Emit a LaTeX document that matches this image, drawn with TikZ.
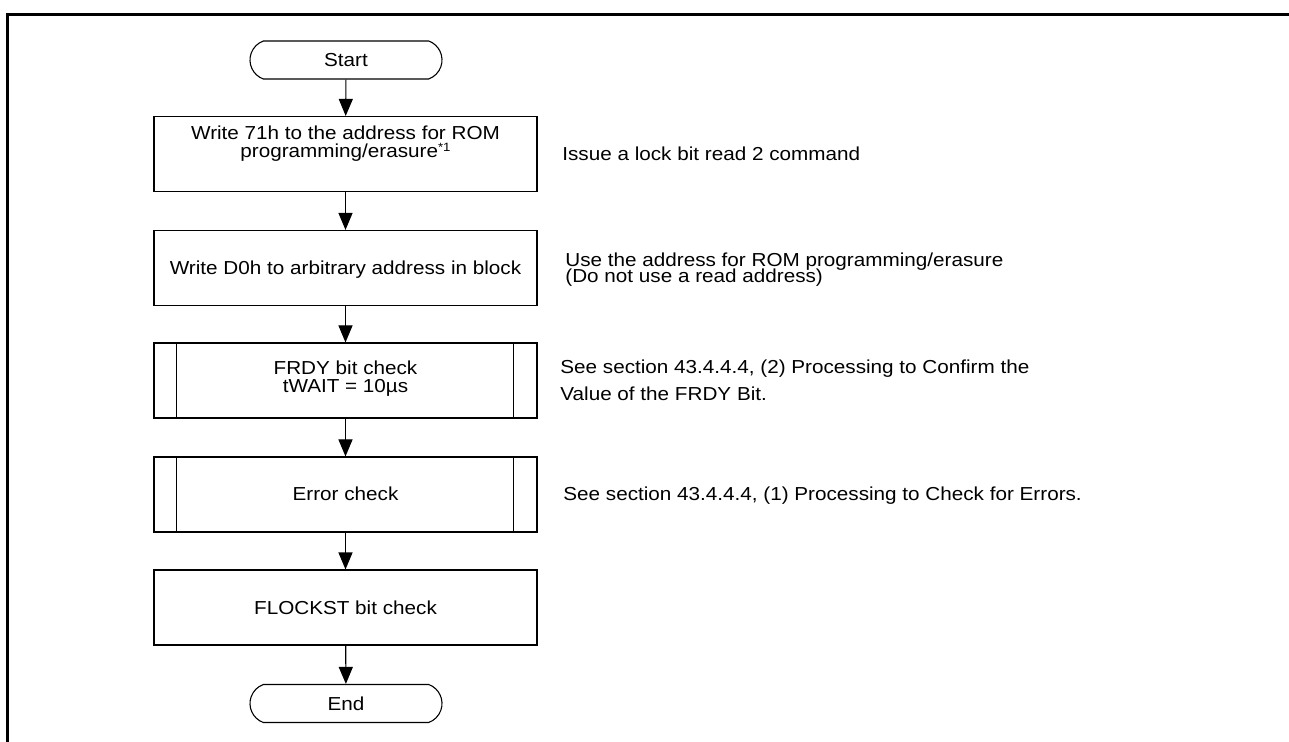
\documentclass[tikz,border=0pt]{standalone}
\usepackage{fontspec}
\setmainfont{Liberation Sans}[FakeStretch=1.1]
\usetikzlibrary{arrows.meta,shapes.misc}
\newcommand{\supnote}[1]{\raisebox{3pt}{\fontsize{6}{6}\selectfont #1}}
\begin{document}
\begin{tikzpicture}[x=0.5pt,y=-0.5pt,
  every node/.style={font=\fontsize{9.4}{9.4}\selectfont},
  term/.style={draw,line width=0.55pt,rounded rectangle,rounded rectangle arc length=140,minimum width=96pt,minimum height=19pt,inner sep=0pt},
  proc/.style={draw,line width=0.55pt,rectangle,minimum width=191.5pt,minimum height=37.5pt,inner sep=0pt},
  txt/.style={anchor=base,inner sep=0pt},
  note/.style={anchor=base west,inner sep=0pt},
  flow/.style={line width=0.55pt,-{Triangle[length=8.5pt,width=7pt]}},
  frame/.style={line width=1.5pt}]
\useasboundingbox (0,0) rectangle (1289,742);
\draw[frame] (7.5,742) -- (7.5,14.5) -- (1289,14.5);
% shapes
\node[term] (start) at (346,60) {};
\node[proc] (b1) at (345.5,154) {};
\node[proc] (b2) at (345.5,268) {};
\node[proc] (b3) at (345.5,380.5) {};
\node[proc] (b4) at (345.5,494.5) {};
\node[proc] (b5) at (345.5,607.5) {};
\node[term] (end) at (346,703.5) {};
\foreach \b in {b3,b4}{
  \draw[line width=0.55pt] ([xshift=11.5pt]\b.north west) -- ([xshift=11.5pt]\b.south west);
  \draw[line width=0.55pt] ([xshift=-12pt]\b.north east) -- ([xshift=-12pt]\b.south east);
}
% texts in shapes
\node[txt] (startt) at (346,66.7) {Start};
\node[txt] (b1a) at (345.5,140) {Write 71h to the address for ROM};
\node[txt] (b1b) at (345.5,158) {programming/erasure\supnote{*1}};
\node[txt] (b2a) at (345.5,274.7) {Write D0h to arbitrary address in block};
\node[txt] (b3a) at (345.5,375) {FRDY bit check};
\node[txt] (b3b) at (345.5,393) {tWAIT = 10µs};
\node[txt] (b4a) at (345.5,501) {Error check};
\node[txt] (b5a) at (345.5,614) {FLOCKST bit check};
\node[txt] (endt) at (346,710) {End};
% connectors
\draw[flow] (start) -- (b1);
\draw[flow] (b1) -- (b2);
\draw[flow] (b2) -- (b3);
\draw[flow] (b3) -- (b4);
\draw[flow] (b4) -- (b5);
\draw[flow] (b5) -- (end);
% notes
\node[note] (n1) at (562,160.7) {Issue a lock bit read 2 command};
\node[note] (n2a) at (565,266.5) {Use the address for ROM programming/erasure};
\node[note] (n2b) at (565,283) {(Do not use a read address)};
\node[note] (n3a) at (560,373.5) {See section 43.4.4.4, (2) Processing to Confirm the};
\node[note] (n3b) at (560,400.5) {Value of the FRDY Bit.};
\node[note] (n4) at (563,501) {See section 43.4.4.4, (1) Processing to Check for Errors.};
\end{tikzpicture}
\end{document}
